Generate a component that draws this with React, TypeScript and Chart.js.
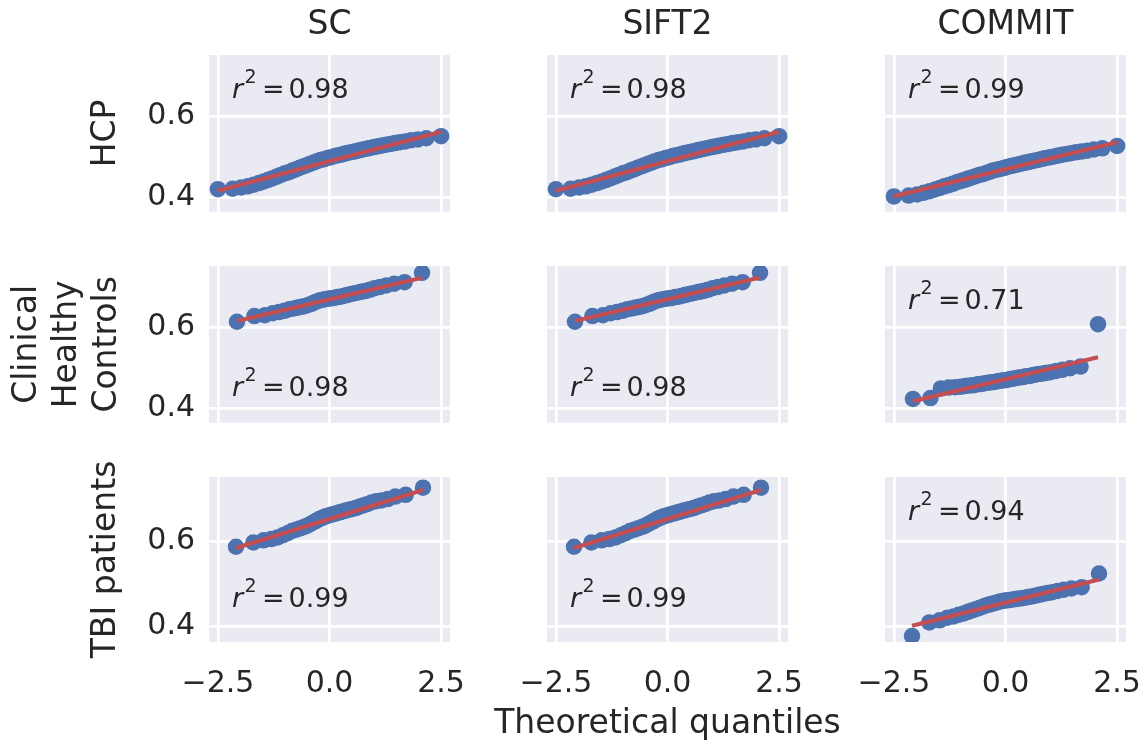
import React, { useEffect, useRef } from 'react';
import { Chart, registerables } from 'chart.js';

Chart.register(...registerables);

// ---------- text ----------
const columnTitles = ['SC', 'SIFT2', 'COMMIT'];
const rowLabels: (string | string[])[] = ['HCP', ['Clinical', 'Healthy', 'Controls'], 'TBI patients'];
const xAxisLabel = 'Theoretical quantiles';
const xTickValues = [-2.5, 0, 2.5];
const xTickLabels = ['\u22122.5', '0.0', '2.5'];
const yTickValues = [0.4, 0.6];
const yTickLabels = ['0.4', '0.6'];

// ---------- data: theoretical quantiles per group ----------
const hcpQuantiles = [-2.5, -2.17, -1.98, -1.83, -1.7, -1.58, -1.47, -1.37, -1.27, -1.18, -1.09, -1.0, -0.91, -0.83, -0.75, -0.67, -0.59, -0.51, -0.43, -0.35, -0.28, -0.2, -0.12, -0.04, 0.04, 0.12, 0.2, 0.28, 0.35, 0.43, 0.51, 0.59, 0.67, 0.75, 0.83, 0.91, 1.0, 1.09, 1.18, 1.27, 1.37, 1.47, 1.58, 1.7, 1.83, 1.98, 2.17, 2.5];
const hcQuantiles = [-2.073, -1.682, -1.448, -1.274, -1.132, -1.01, -0.901, -0.802, -0.71, -0.624, -0.543, -0.464, -0.389, -0.315, -0.243, -0.173, -0.103, -0.034, 0.034, 0.103, 0.173, 0.243, 0.315, 0.389, 0.464, 0.543, 0.624, 0.71, 0.802, 0.901, 1.01, 1.132, 1.274, 1.448, 1.682, 2.073];
const tbiQuantiles = [-2.095, -1.707, -1.476, -1.305, -1.165, -1.045, -0.938, -0.841, -0.751, -0.667, -0.587, -0.511, -0.438, -0.367, -0.298, -0.23, -0.164, -0.098, -0.033, 0.033, 0.098, 0.164, 0.23, 0.298, 0.367, 0.438, 0.511, 0.587, 0.667, 0.751, 0.841, 0.938, 1.045, 1.165, 1.305, 1.476, 1.707, 2.095];

// ---------- data: ordered sample values ----------
const hcpSC = [0.42, 0.421, 0.424, 0.427, 0.431, 0.435, 0.439, 0.443, 0.447, 0.451, 0.455, 0.459, 0.462, 0.466, 0.469, 0.473, 0.476, 0.479, 0.483, 0.486, 0.489, 0.492, 0.494, 0.497, 0.499, 0.502, 0.504, 0.506, 0.508, 0.51, 0.512, 0.514, 0.516, 0.518, 0.52, 0.522, 0.524, 0.526, 0.528, 0.53, 0.532, 0.534, 0.536, 0.538, 0.541, 0.543, 0.546, 0.551];
const hcpSIFT2 = [0.42, 0.421, 0.424, 0.427, 0.431, 0.435, 0.439, 0.443, 0.447, 0.451, 0.455, 0.459, 0.462, 0.466, 0.469, 0.473, 0.476, 0.479, 0.483, 0.486, 0.489, 0.492, 0.494, 0.497, 0.499, 0.502, 0.504, 0.506, 0.508, 0.51, 0.512, 0.514, 0.516, 0.518, 0.52, 0.522, 0.524, 0.526, 0.528, 0.53, 0.532, 0.534, 0.536, 0.538, 0.541, 0.543, 0.546, 0.551];
const hcpCOMMIT = [0.402, 0.404, 0.407, 0.411, 0.415, 0.419, 0.423, 0.427, 0.43, 0.433, 0.437, 0.44, 0.443, 0.446, 0.449, 0.452, 0.455, 0.457, 0.46, 0.463, 0.466, 0.468, 0.47, 0.472, 0.475, 0.477, 0.479, 0.481, 0.483, 0.485, 0.487, 0.489, 0.491, 0.493, 0.495, 0.497, 0.499, 0.501, 0.503, 0.505, 0.507, 0.509, 0.511, 0.513, 0.515, 0.518, 0.521, 0.527];

const hcSC = [0.614, 0.628, 0.63, 0.635, 0.638, 0.641, 0.645, 0.647, 0.649, 0.651, 0.653, 0.656, 0.659, 0.663, 0.666, 0.668, 0.67, 0.671, 0.672, 0.673, 0.675, 0.676, 0.678, 0.68, 0.682, 0.684, 0.686, 0.688, 0.69, 0.693, 0.697, 0.7, 0.704, 0.708, 0.712, 0.735];
const hcSIFT2 = [0.614, 0.628, 0.63, 0.635, 0.638, 0.641, 0.645, 0.647, 0.649, 0.651, 0.653, 0.656, 0.659, 0.663, 0.666, 0.668, 0.67, 0.671, 0.672, 0.673, 0.675, 0.676, 0.678, 0.68, 0.682, 0.684, 0.686, 0.688, 0.69, 0.693, 0.697, 0.7, 0.704, 0.708, 0.712, 0.735];
const hcCOMMIT = [0.423, 0.425, 0.449, 0.451, 0.452, 0.453, 0.455, 0.456, 0.457, 0.459, 0.46, 0.462, 0.463, 0.464, 0.465, 0.467, 0.468, 0.469, 0.47, 0.472, 0.473, 0.475, 0.476, 0.477, 0.479, 0.48, 0.482, 0.484, 0.485, 0.487, 0.489, 0.492, 0.495, 0.499, 0.503, 0.608];

const tbiSC = [0.588, 0.598, 0.603, 0.606, 0.61, 0.615, 0.62, 0.625, 0.628, 0.631, 0.634, 0.637, 0.641, 0.645, 0.649, 0.653, 0.656, 0.659, 0.661, 0.663, 0.665, 0.667, 0.669, 0.671, 0.673, 0.675, 0.677, 0.679, 0.682, 0.685, 0.688, 0.692, 0.695, 0.697, 0.7, 0.706, 0.71, 0.727];
const tbiSIFT2 = [0.588, 0.598, 0.603, 0.606, 0.61, 0.615, 0.62, 0.625, 0.628, 0.631, 0.634, 0.637, 0.641, 0.645, 0.649, 0.653, 0.656, 0.659, 0.661, 0.663, 0.665, 0.667, 0.669, 0.671, 0.673, 0.675, 0.677, 0.679, 0.682, 0.685, 0.688, 0.692, 0.695, 0.697, 0.7, 0.706, 0.71, 0.727];
const tbiCOMMIT = [0.378, 0.41, 0.415, 0.421, 0.424, 0.428, 0.431, 0.435, 0.438, 0.441, 0.444, 0.447, 0.45, 0.452, 0.454, 0.456, 0.458, 0.46, 0.461, 0.462, 0.463, 0.464, 0.465, 0.466, 0.467, 0.468, 0.47, 0.471, 0.473, 0.475, 0.477, 0.479, 0.481, 0.484, 0.487, 0.49, 0.493, 0.525];

// ---------- fitted lines and r^2 (row-major: HCP, HC, TBI × SC, SIFT2, COMMIT) ----------
const fitSlopes = [0.0292, 0.0292, 0.0267, 0.0259, 0.0259, 0.0263, 0.0325, 0.0325, 0.026];
const fitIntercepts = [0.489, 0.489, 0.469, 0.6694, 0.6696, 0.4715, 0.6532, 0.6532, 0.4565];
const r2Values = ['0.98', '0.98', '0.99', '0.98', '0.98', '0.71', '0.99', '0.99', '0.94'];

const rowQuantiles = [hcpQuantiles, hcQuantiles, tbiQuantiles];
const panelValues = [
  [hcpSC, hcpSIFT2, hcpCOMMIT],
  [hcSC, hcSIFT2, hcCOMMIT],
  [tbiSC, tbiSIFT2, tbiCOMMIT],
];

// ---------- layout / style ----------
const r2Place = ['top', 'top', 'top', 'bottom', 'bottom', 'top', 'bottom', 'bottom', 'top'];
const FONT = '"DejaVu Sans", sans-serif';
const TEXT = '#262626';
const panelLeft = [209, 547, 885];
const panelTop = [55, 266, 477];
const PANEL_W = 241;
const PANEL_H = 165;
const SIDE = 60;
const TOP_MARGIN = 40;
const XLABEL_H = 39.6;
const ROW_TITLE_PAD = [87, 8, 87];

const bgPlugin = {
  id: 'panelBg',
  beforeDraw(chart: any) {
    const { ctx, chartArea } = chart;
    ctx.save();
    ctx.fillStyle = '#eaeaf2';
    ctx.fillRect(chartArea.left, chartArea.top, chartArea.right - chartArea.left, chartArea.bottom - chartArea.top);
    ctx.restore();
  },
};

const r2Plugin = {
  id: 'r2note',
  afterDatasetsDraw(chart: any, _args: any, opts: any) {
    const { ctx, chartArea } = chart;
    const x0 = chartArea.left + 23;
    const y0 = chartArea.top + (opts.place === 'top' ? 42.7 : 130.2);
    ctx.save();
    ctx.fillStyle = TEXT;
    ctx.textAlign = 'left';
    ctx.textBaseline = 'alphabetic';
    ctx.font = 'italic 27px ' + FONT;
    ctx.fillText('r', x0, y0);
    ctx.font = '19px ' + FONT;
    ctx.fillText('2', x0 + 12.5, y0 - 15);
    ctx.font = '27px ' + FONT;
    ctx.fillText('=', x0 + 30, y0);
    ctx.fillText(opts.value, x0 + 56.5, y0);
    ctx.restore();
  },
};

function geometry(r: number, c: number) {
  const leftMargin = c === 0 ? panelLeft[0] : SIDE;
  const topMargin = r === 0 ? panelTop[0] : TOP_MARGIN;
  const bottomMargin = r === 2 ? 744 - (panelTop[2] + PANEL_H) : 0;
  return {
    left: panelLeft[c] - leftMargin,
    top: panelTop[r] - topMargin,
    width: leftMargin + PANEL_W + SIDE,
    height: topMargin + PANEL_H + bottomMargin,
    leftMargin,
    topMargin,
    bottomMargin,
  };
}

function zeroPadding(s: any) {
  s.paddingLeft = 0;
  s.paddingRight = 0;
  s.paddingTop = 0;
  s.paddingBottom = 0;
}

function buildConfig(r: number, c: number): any {
  const idx = r * 3 + c;
  const xs = rowQuantiles[r];
  const ys = panelValues[r][c];
  const pts = xs.map((x, i) => ({ x, y: ys[i] }));
  const xMin = xs[0];
  const xMax = xs[xs.length - 1];
  const fit = [
    { x: xMin, y: fitSlopes[idx] * xMin + fitIntercepts[idx] },
    { x: xMax, y: fitSlopes[idx] * xMax + fitIntercepts[idx] },
  ];
  const g = geometry(r, c);
  const hasXLabel = r === 2 && c === 1;
  return {
    type: 'scatter',
    data: {
      datasets: [
        {
          data: fit,
          showLine: true,
          borderColor: '#c44e52',
          backgroundColor: '#c44e52',
          borderWidth: 4.1,
          pointRadius: 0,
          clip: 0,
          order: 0,
        },
        {
          data: pts,
          pointRadius: 8.25,
          pointBackgroundColor: '#4c72b0',
          pointBorderColor: '#4c72b0',
          pointBorderWidth: 0,
          clip: 0,
          order: 1,
        },
      ],
    },
    options: {
      responsive: false,
      maintainAspectRatio: false,
      animation: false,
      events: [],
      layout: { padding: { left: 0, right: 0, top: r === 0 ? 0 : TOP_MARGIN, bottom: 0 } },
      plugins: {
        legend: { display: false },
        tooltip: { enabled: false },
        title: {
          display: r === 0,
          text: columnTitles[c],
          color: TEXT,
          font: { family: FONT, size: 33, weight: 'normal' },
          padding: { top: 6, bottom: 9.4 },
          fullSize: false,
        },
        subtitle: {
          display: hasXLabel,
          position: 'bottom',
          text: xAxisLabel,
          color: TEXT,
          font: { family: FONT, size: 33, weight: 'normal' },
          padding: 0,
          fullSize: true,
        },
        r2note: { place: r2Place[idx], value: r2Values[idx] },
      },
      scales: {
        x: {
          type: 'linear',
          position: 'bottom',
          min: -2.7,
          max: 2.7,
          afterBuildTicks: (s: any) => {
            s.ticks = xTickValues.map((v) => ({ value: v }));
          },
          afterFit: (s: any) => {
            s.height = hasXLabel ? g.bottomMargin - XLABEL_H : g.bottomMargin;
            zeroPadding(s);
          },
          grid: { color: '#ffffff', lineWidth: 2.75, drawTicks: false },
          border: { display: false },
          ticks: {
            display: r === 2,
            padding: 24,
            autoSkip: false,
            maxRotation: 0,
            color: TEXT,
            font: { family: FONT, size: 30 },
            callback: (_v: any, i: number) => xTickLabels[i],
          },
          title: { display: false },
        },
        y: {
          type: 'linear',
          position: 'left',
          min: 0.364,
          max: 0.752,
          afterBuildTicks: (s: any) => {
            s.ticks = yTickValues.map((v) => ({ value: v }));
          },
          afterFit: (s: any) => {
            s.width = g.leftMargin;
            zeroPadding(s);
          },
          grid: { color: '#ffffff', lineWidth: 2.75, drawTicks: false },
          border: { display: false },
          ticks: {
            display: c === 0,
            padding: 14,
            autoSkip: false,
            color: TEXT,
            font: { family: FONT, size: 30 },
            callback: (_v: any, i: number) => yTickLabels[i],
          },
          title: {
            display: c === 0,
            text: rowLabels[r],
            color: TEXT,
            font: { family: FONT, size: 33 },
            padding: { top: ROW_TITLE_PAD[r], bottom: 0 },
          },
        },
        ySpacer: {
          type: 'linear',
          position: 'right',
          display: true,
          afterFit: (s: any) => {
            s.width = SIDE;
            zeroPadding(s);
          },
          grid: { display: false, drawTicks: false },
          border: { display: false },
          ticks: { display: false },
          title: { display: false },
        },
      },
    },
    plugins: [bgPlugin, r2Plugin],
  };
}

const cells: [number, number][] = [];
for (let r = 0; r < 3; r++) for (let c = 0; c < 3; c++) cells.push([r, c]);

export default function App() {
  const refs = useRef<(HTMLCanvasElement | null)[]>([]);
  useEffect(() => {
    const charts: Chart[] = [];
    cells.forEach(([r, c], k) => {
      const cv = refs.current[k];
      if (cv) charts.push(new Chart(cv, buildConfig(r, c)));
    });
    return () => charts.forEach((ch) => ch.destroy());
  }, []);
  return (
    <div style={{ position: 'absolute', left: 0, top: 0, width: 1145, height: 744, background: '#ffffff', overflow: 'hidden' }}>
      {cells.map(([r, c], k) => {
        const g = geometry(r, c);
        return (
          <canvas
            key={k}
            ref={(el) => {
              refs.current[k] = el;
            }}
            width={g.width}
            height={g.height}
            style={{ position: 'absolute', left: g.left, top: g.top, width: g.width, height: g.height, display: 'block' }}
          />
        );
      })}
    </div>
  );
}
